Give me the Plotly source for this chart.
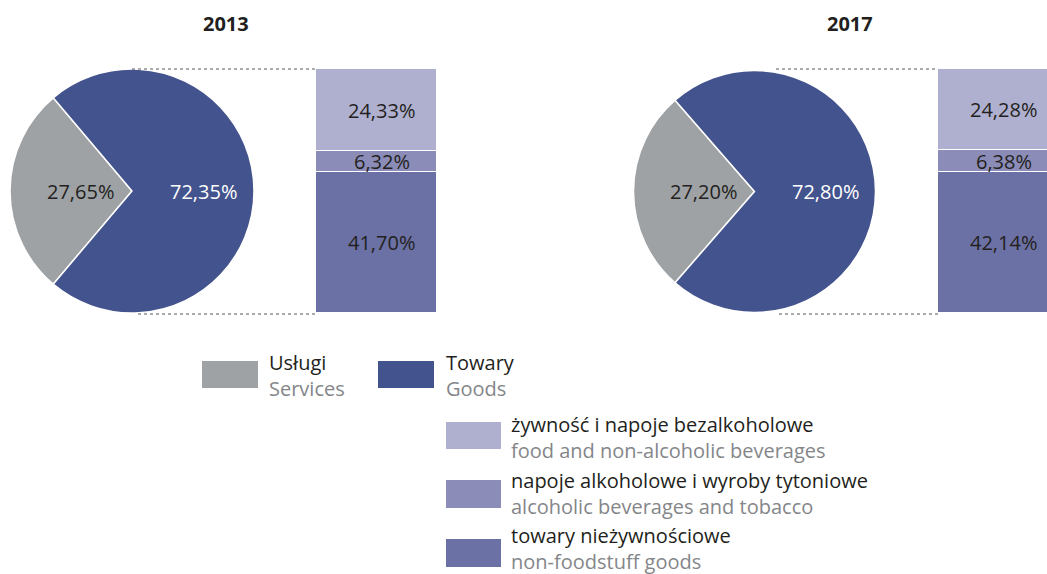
import plotly.graph_objects as go

# ---- data ----
years = ["2013", "2017"]
main_labels = ["Usługi", "Towary"]
main_labels_en = ["Services", "Goods"]
services = [27.65, 27.20]
goods = [72.35, 72.80]
sub_labels = ["żywność i napoje bezalkoholowe",
              "napoje alkoholowe i wyroby tytoniowe",
              "towary nieżywnościowe"]
sub_labels_en = ["food and non-alcoholic beverages",
                 "alcoholic beverages and tobacco",
                 "non-foodstuff goods"]
food = [24.33, 24.28]
alcohol = [6.32, 6.38]
nonfood = [41.70, 42.14]

# ---- style ----
W, H = 1047, 574
FONT = "Open Sans"
C_SERV = "#9ea2a5"
C_GOODS = "#43538d"
C_FOOD = "#afb0cf"
C_ALC = "#8b8cb7"
C_NONFOOD = "#6b71a4"
C_TXT = "#231f20"
C_EN = "#848689"
LBL = 20
LEG = 20


def px(x):
    return x / W


def py(y):
    return 1 - y / H


def fmt(v):
    return f"{v:.2f}".replace(".", ",") + "%"


def ann(x, y, text, size, color, xanchor="center", xref="paper", yref="paper", xshift=0):
    return dict(x=x, y=y, xref=xref, yref=yref, text=text, showarrow=False,
                xanchor=xanchor, yanchor="middle", xshift=xshift, align="left",
                font=dict(family=FONT, size=size, color=color))


def two_line(pl, en):
    return f"{pl}<br><span style='color:{C_EN}'>{en}</span>"


fig = go.Figure()

pie_geo = [dict(cx=132, cy=191, r=122), dict(cx=754.5, cy=191.5, r=121)]
bar_geo = [dict(x0=316, x1=437), dict(x0=938, x1=1059)]
bar_top, bar_bot = 69, 313

annotations = []
shapes = []

for i, yr in enumerate(years):
    g = pie_geo[i]
    rot = 270 - services[i] / 100 * 360 / 2
    fig.add_trace(go.Pie(
        labels=main_labels, values=[services[i], goods[i]],
        sort=False, direction="clockwise", rotation=rot,
        marker=dict(colors=[C_SERV, C_GOODS], line=dict(color="white", width=1.5)),
        textinfo="none", hoverinfo="label+percent", showlegend=False,
        domain=dict(x=[px(g["cx"] - g["r"]), px(g["cx"] + g["r"])],
                    y=[py(g["cy"] + g["r"]), py(g["cy"] - g["r"])]),
    ))
    # pie labels
    annotations.append(ann(px(g["cx"] - 0.42 * g["r"]), py(g["cy"]), fmt(services[i]), LBL, C_TXT))
    annotations.append(ann(px(g["cx"] + 0.59 * g["r"]), py(g["cy"]), fmt(goods[i]), LBL, "white"))
    # title
    annotations.append(ann(px([225.5, 850][i]), py(24), f"<b>{yr}</b>", LBL, C_TXT))

    # stacked bar
    xa = "x" if i == 0 else "x2"
    ya = "y" if i == 0 else "y2"
    for vals, col in [(nonfood, C_NONFOOD), (alcohol, C_ALC), (food, C_FOOD)]:
        fig.add_trace(go.Bar(x=[0], y=[vals[i]], width=1, xaxis=xa, yaxis=ya,
                             marker=dict(color=col, line=dict(color="white", width=1.5)),
                             showlegend=False, hoverinfo="y"))
    cum = 0
    for vals in [nonfood, alcohol, food]:
        annotations.append(ann(0, cum + vals[i] / 2, fmt(vals[i]), LBL, C_TXT,
                               xref=xa, yref=ya, xshift=5))
        cum += vals[i]

    # dotted connectors
    b = bar_geo[i]
    starts = [(132, 138), (776, 779)][i]
    for (xs, yy) in [(starts[0], bar_top), (starts[1], bar_bot + 1)]:
        shapes.append(dict(type="line", xref="paper", yref="paper",
                           x0=px(xs), x1=px(b["x0"]), y0=py(yy), y1=py(yy),
                           line=dict(color="#58595b", width=1.2, dash="3px,3px")))

# ---- legend (custom) ----
leg_main = [dict(x0=202, x1=258, tx=267, col=C_SERV), dict(x0=378, x1=434, tx=444, col=C_GOODS)]
for k, it in enumerate(leg_main):
    shapes.append(dict(type="rect", xref="paper", yref="paper", x0=px(it["x0"]), x1=px(it["x1"]),
                       y0=py(388), y1=py(361), fillcolor=it["col"], line=dict(width=0)))
    annotations.append(ann(px(it["tx"]), py(375.5), two_line(main_labels[k], main_labels_en[k]),
                           LEG, C_TXT, xanchor="left"))

sub_cols = [C_FOOD, C_ALC, C_NONFOOD]
sub_box = [(422, 449), (480, 508), (539, 567)]
sub_text_c = [437.5, 493, 548]
for k in range(3):
    shapes.append(dict(type="rect", xref="paper", yref="paper", x0=px(446), x1=px(501),
                       y0=py(sub_box[k][1]), y1=py(sub_box[k][0]), fillcolor=sub_cols[k], line=dict(width=0)))
    annotations.append(ann(px(509), py(sub_text_c[k]), two_line(sub_labels[k], sub_labels_en[k]),
                           LEG, C_TXT, xanchor="left"))

axis_common = dict(visible=False, fixedrange=True)
fig.update_layout(
    width=W, height=H,
    margin=dict(l=0, r=0, t=0, b=0),
    paper_bgcolor="white", plot_bgcolor="rgba(0,0,0,0)",
    barmode="stack", bargap=0,
    xaxis=dict(domain=[px(bar_geo[0]["x0"]), px(bar_geo[0]["x1"])], range=[-0.5, 0.5], **axis_common),
    yaxis=dict(domain=[py(bar_bot), py(bar_top)], range=[0, goods[0]], **axis_common),
    xaxis2=dict(domain=[px(bar_geo[1]["x0"]), 1],
                range=[-0.5, -0.5 + (W - bar_geo[1]["x0"]) / (bar_geo[1]["x1"] - bar_geo[1]["x0"])],
                anchor="y2", **axis_common),
    yaxis2=dict(domain=[py(bar_bot), py(bar_top)], range=[0, goods[1]], anchor="x2", **axis_common),
    shapes=shapes, annotations=annotations,
    font=dict(family=FONT),
    showlegend=False,
)

fig.write_html("out.html", config={"displayModeBar": False},
               post_script="document.body.style.margin='0';document.body.style.overflow='hidden';")
